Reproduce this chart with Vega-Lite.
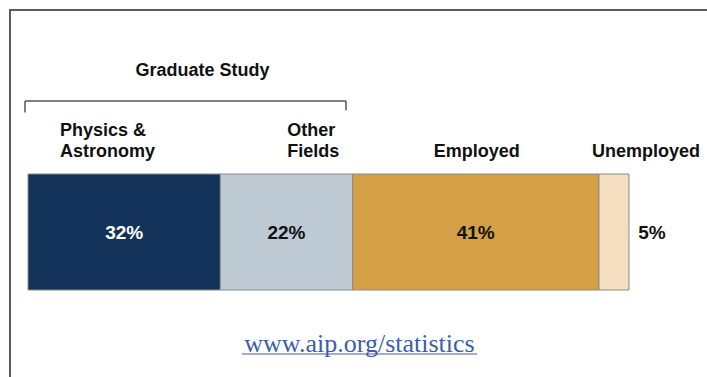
{
  "$schema": "https://vega.github.io/schema/vega-lite/v6.json",
  "width": 707,
  "height": 377,
  "padding": 0,
  "autosize": {"type": "none"},
  "background": "white",
  "config": {"view": {"stroke": null}},
  "layer": [
    {
      "data": {"values": [{}]},
      "mark": {"type": "rule", "color": "#5a5a5a", "strokeWidth": 2},
      "encoding": {
        "x": {"datum": -3.16, "type": "quantitative", "scale": {"domain": [-4.659, 112.98], "nice": false, "zero": false}, "axis": null},
        "x2": {"datum": 112.98},
        "y": {"datum": 2.4138, "type": "quantitative", "scale": {"domain": [-0.75, 2.5], "nice": false, "zero": false}, "axis": null}
      }
    },
    {
      "data": {"values": [{}]},
      "mark": {"type": "rule", "color": "#5a5a5a", "strokeWidth": 2},
      "encoding": {
        "x": {"datum": -2.995, "type": "quantitative"},
        "y": {"datum": 2.422, "type": "quantitative"},
        "y2": {"datum": -0.75}
      }
    },
    {
      "data": {"values": [{}]},
      "mark": {"type": "rule", "color": "#555555", "strokeWidth": 1.5},
      "encoding": {
        "x": {"datum": -0.5, "type": "quantitative"},
        "x2": {"datum": 52.91},
        "y": {"datum": 1.629, "type": "quantitative"}
      }
    },
    {
      "data": {"values": [{}]},
      "mark": {"type": "rule", "color": "#555555", "strokeWidth": 1.5},
      "encoding": {
        "x": {"datum": -0.5, "type": "quantitative"},
        "y": {"datum": 1.629, "type": "quantitative"},
        "y2": {"datum": 1.53}
      }
    },
    {
      "data": {"values": [{}]},
      "mark": {"type": "rule", "color": "#555555", "strokeWidth": 1.5},
      "encoding": {
        "x": {"datum": 52.91, "type": "quantitative"},
        "y": {"datum": 1.629, "type": "quantitative"},
        "y2": {"datum": 1.55}
      }
    },
    {
      "data": {"values": [{"group": "Graduate Study"}]},
      "mark": {"type": "text", "font": "Liberation Sans", "fontWeight": "bold", "fontSize": 18, "color": "#111111", "align": "center", "baseline": "alphabetic"},
      "encoding": {
        "x": {"datum": 29.04, "type": "quantitative"},
        "y": {"datum": 1.845, "type": "quantitative"},
        "text": {"field": "group"}
      }
    },
    {
      "data": {"values": [{"url": "www.aip.org/statistics"}]},
      "mark": {"type": "text", "font": "Liberation Serif", "fontSize": 26, "color": "#3E5DAA", "align": "center", "baseline": "alphabetic"},
      "encoding": {
        "x": {"datum": 55.16, "type": "quantitative"},
        "y": {"datum": -0.532, "type": "quantitative"},
        "text": {"field": "url"}
      }
    },
    {
      "data": {"values": [{}]},
      "mark": {"type": "rule", "color": "#3E5DAA", "strokeWidth": 1},
      "encoding": {
        "x": {"datum": 35.61, "type": "quantitative"},
        "x2": {"datum": 74.71},
        "y": {"datum": -0.5517, "type": "quantitative"}
      }
    },
    {
      "data": {"name": "main", "values": [
        {"category": "Physics & Astronomy", "label": "Physics &\nAstronomy", "pct": 32, "order": 1},
        {"category": "Other Fields", "label": "Other\nFields", "pct": 22, "order": 2},
        {"category": "Employed", "label": "Employed", "pct": 41, "order": 3},
        {"category": "Unemployed", "label": "Unemployed", "pct": 5, "order": 4}
      ]},
      "transform": [
        {"stack": "pct", "groupby": [], "sort": [{"field": "order", "order": "ascending"}], "as": ["x0", "x1"]},
        {"calculate": "(datum.x0 + datum.x1) / 2", "as": "mid"},
        {"calculate": "datum.pct + '%'", "as": "pctLabel"}
      ],
      "layer": [
        {
          "mark": {"type": "rect", "stroke": "#8a8a8a", "strokeWidth": 1},
          "encoding": {
            "x": {"field": "x0", "type": "quantitative"},
            "x2": {"field": "x1"},
            "y": {"datum": 0, "type": "quantitative"},
            "y2": {"datum": 1},
            "color": {"field": "category", "type": "nominal", "legend": null,
              "scale": {"domain": ["Physics & Astronomy", "Other Fields", "Employed", "Unemployed"],
                        "range": ["#12325A", "#BECBD5", "#D49F45", "#F3DFBF"]}}
          }
        },
        {
          "transform": [{"filter": "datum.order <= 3"}],
          "mark": {"type": "text", "font": "Liberation Sans", "fontWeight": "bold", "fontSize": 19, "align": "center", "baseline": "alphabetic"},
          "encoding": {
            "x": {"field": "mid", "type": "quantitative"},
            "y": {"datum": 0.4397, "type": "quantitative"},
            "text": {"field": "pctLabel"},
            "color": {"condition": {"test": "datum.order == 1", "value": "#ffffff"}, "value": "#111111"}
          }
        },
        {
          "transform": [{"filter": "datum.order == 4"}],
          "mark": {"type": "text", "font": "Liberation Sans", "fontWeight": "bold", "fontSize": 19, "align": "center", "baseline": "alphabetic", "dx": 23, "color": "#111111"},
          "encoding": {
            "x": {"field": "x1", "type": "quantitative"},
            "y": {"datum": 0.4397, "type": "quantitative"},
            "text": {"field": "pctLabel"}
          }
        },
        {
          "transform": [{"filter": "datum.order == 1"}],
          "mark": {"type": "text", "font": "Liberation Sans", "fontWeight": "bold", "fontSize": 18, "align": "left", "baseline": "bottom", "lineBreak": "\n", "lineHeight": 21, "dx": 32, "color": "#111111"},
          "encoding": {
            "x": {"field": "x0", "type": "quantitative"},
            "y": {"datum": 1.293, "type": "quantitative"},
            "text": {"field": "label"}
          }
        },
        {
          "transform": [{"filter": "datum.order == 2"}],
          "mark": {"type": "text", "font": "Liberation Sans", "fontWeight": "bold", "fontSize": 18, "align": "left", "baseline": "bottom", "lineBreak": "\n", "lineHeight": 21, "dx": 67, "color": "#111111"},
          "encoding": {
            "x": {"field": "x0", "type": "quantitative"},
            "y": {"datum": 1.293, "type": "quantitative"},
            "text": {"field": "label"}
          }
        },
        {
          "transform": [{"filter": "datum.order == 3"}],
          "mark": {"type": "text", "font": "Liberation Sans", "fontWeight": "bold", "fontSize": 18, "align": "center", "baseline": "bottom", "dx": 1, "color": "#111111"},
          "encoding": {
            "x": {"field": "mid", "type": "quantitative"},
            "y": {"datum": 1.112, "type": "quantitative"},
            "text": {"field": "label"}
          }
        },
        {
          "transform": [{"filter": "datum.order == 4"}],
          "mark": {"type": "text", "font": "Liberation Sans", "fontWeight": "bold", "fontSize": 18, "align": "center", "baseline": "bottom", "dx": 32, "color": "#111111"},
          "encoding": {
            "x": {"field": "mid", "type": "quantitative"},
            "y": {"datum": 1.112, "type": "quantitative"},
            "text": {"field": "label"}
          }
        }
      ]
    }
  ]
}
